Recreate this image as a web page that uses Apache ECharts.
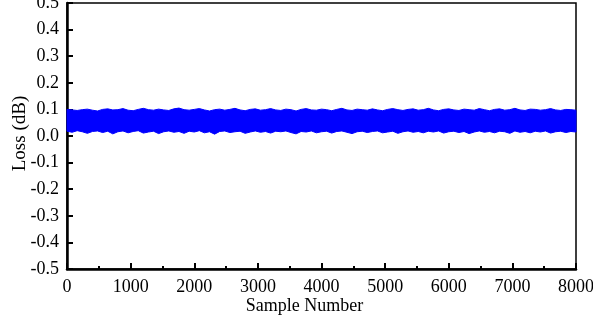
<!DOCTYPE html>
<html>
<head>
<meta charset="utf-8">
<script src="https://cdn.jsdelivr.net/npm/echarts@6/dist/echarts.min.js"></script>
<style>html,body{margin:0;padding:0;background:#fff}#c{width:593px;height:324px}</style>
</head>
<body>
<div id="c"></div>
<script>
// Sample positions (every 80 samples) and envelope of the dense loss trace
const sampleStep = 80;
const sampleCount = 101;
const upperEnvelope = [0.100,0.098,0.096,0.099,0.101,0.097,0.094,0.100,0.102,0.098,
0.099,0.103,0.097,0.095,0.100,0.104,0.099,0.097,0.101,0.098,
0.096,0.102,0.105,0.099,0.097,0.100,0.103,0.098,0.094,0.099,
0.101,0.097,0.100,0.104,0.098,0.095,0.100,0.102,0.097,0.099,
0.103,0.098,0.096,0.101,0.099,0.094,0.100,0.103,0.098,0.097,
0.101,0.099,0.095,0.100,0.104,0.098,0.096,0.101,0.099,0.097,
0.102,0.098,0.095,0.100,0.103,0.099,0.096,0.100,0.102,0.097,
0.099,0.104,0.098,0.095,0.100,0.102,0.098,0.096,0.101,0.099,
0.097,0.103,0.099,0.095,0.100,0.102,0.097,0.099,0.104,0.098,
0.096,0.101,0.100,0.097,0.099,0.103,0.098,0.096,0.100,0.099,0.097];
const lowerEnvelope = [0.018,0.014,0.020,0.016,0.010,0.017,0.019,0.013,0.018,0.008,
0.016,0.019,0.012,0.017,0.020,0.011,0.015,0.018,0.009,0.016,
0.019,0.014,0.017,0.010,0.018,0.015,0.020,0.012,0.016,0.007,
0.017,0.019,0.013,0.016,0.018,0.010,0.015,0.019,0.014,0.017,
0.011,0.018,0.016,0.019,0.013,0.008,0.017,0.015,0.019,0.012,
0.016,0.018,0.011,0.017,0.019,0.014,0.009,0.016,0.018,0.013,
0.017,0.019,0.012,0.015,0.018,0.010,0.016,0.019,0.014,0.017,
0.012,0.018,0.015,0.019,0.011,0.016,0.018,0.013,0.017,0.009,
0.015,0.019,0.014,0.017,0.012,0.018,0.016,0.010,0.019,0.014,
0.017,0.012,0.018,0.015,0.019,0.011,0.016,0.018,0.013,0.017,0.015];
const xTicks = [0,1000,2000,3000,4000,5000,6000,7000,8000];
const yTicks = [-0.5,-0.4,-0.3,-0.2,-0.1,0.0,0.1,0.2,0.3,0.4,0.5];

const samples = [];
for (let i = 0; i < sampleCount; i++) samples.push(i * sampleStep);

const font = '"Liberation Serif", "Times New Roman", serif';
const chart = echarts.init(document.getElementById('c'), null, {renderer: 'canvas'});
chart.setOption({
  animation: false,
  backgroundColor: '#fff',
  grid: {left: 67, right: 17, top: 3, bottom: 55, show: true, borderColor: '#000', borderWidth: 1.5,
         backgroundColor: 'transparent', containLabel: false, outerBoundsMode: 'none'},
  xAxis: {
    type: 'value', min: xTicks[0], max: xTicks[xTicks.length - 1], interval: 1000,
    name: 'Sample Number', nameLocation: 'middle', nameGap: 28, nameMoveOverlap: false,
    nameTextStyle: {fontFamily: font, fontSize: 18, color: '#000', padding: [0, 34, 0, 0]},
    axisLine: {onZero: false, lineStyle: {color: '#000', width: 2.5}},
    axisTick: {inside: true, length: 6, lineStyle: {color: '#000', width: 2}},
    minorTick: {show: true, splitNumber: 2, length: 3, lineStyle: {color: '#000', width: 2}},
    axisLabel: {fontFamily: font, fontSize: 18, color: '#000', margin: 9, formatter: v => String(v)},
    splitLine: {show: false}
  },
  yAxis: {
    type: 'value', min: yTicks[0], max: yTicks[yTicks.length - 1], interval: 0.1,
    name: 'Loss (dB)', nameLocation: 'middle', nameGap: 37, nameMoveOverlap: false,
    nameTextStyle: {fontFamily: font, fontSize: 19, color: '#000', padding: [0, 0, 0, 5]},
    axisLine: {onZero: false, lineStyle: {color: '#000', width: 2.5}},
    axisTick: {inside: true, length: 6, lineStyle: {color: '#000', width: 2}},
    axisLabel: {fontFamily: font, fontSize: 18, color: '#000', margin: 8, formatter: v => v.toFixed(1)},
    splitLine: {show: false}
  },
  series: [{
    type: 'custom',
    data: [0],
    silent: true,
    renderItem: function (params, api) {
      const pts = [];
      for (let i = 0; i < sampleCount; i++) pts.push(api.coord([samples[i], upperEnvelope[i]]));
      for (let i = sampleCount - 1; i >= 0; i--) pts.push(api.coord([samples[i], lowerEnvelope[i]]));
      return {type: 'polygon', shape: {points: pts},
              style: {fill: '#0000ff', stroke: '#0000ff', lineWidth: 1}};
    }
  }]
});
</script>
</body>
</html>
